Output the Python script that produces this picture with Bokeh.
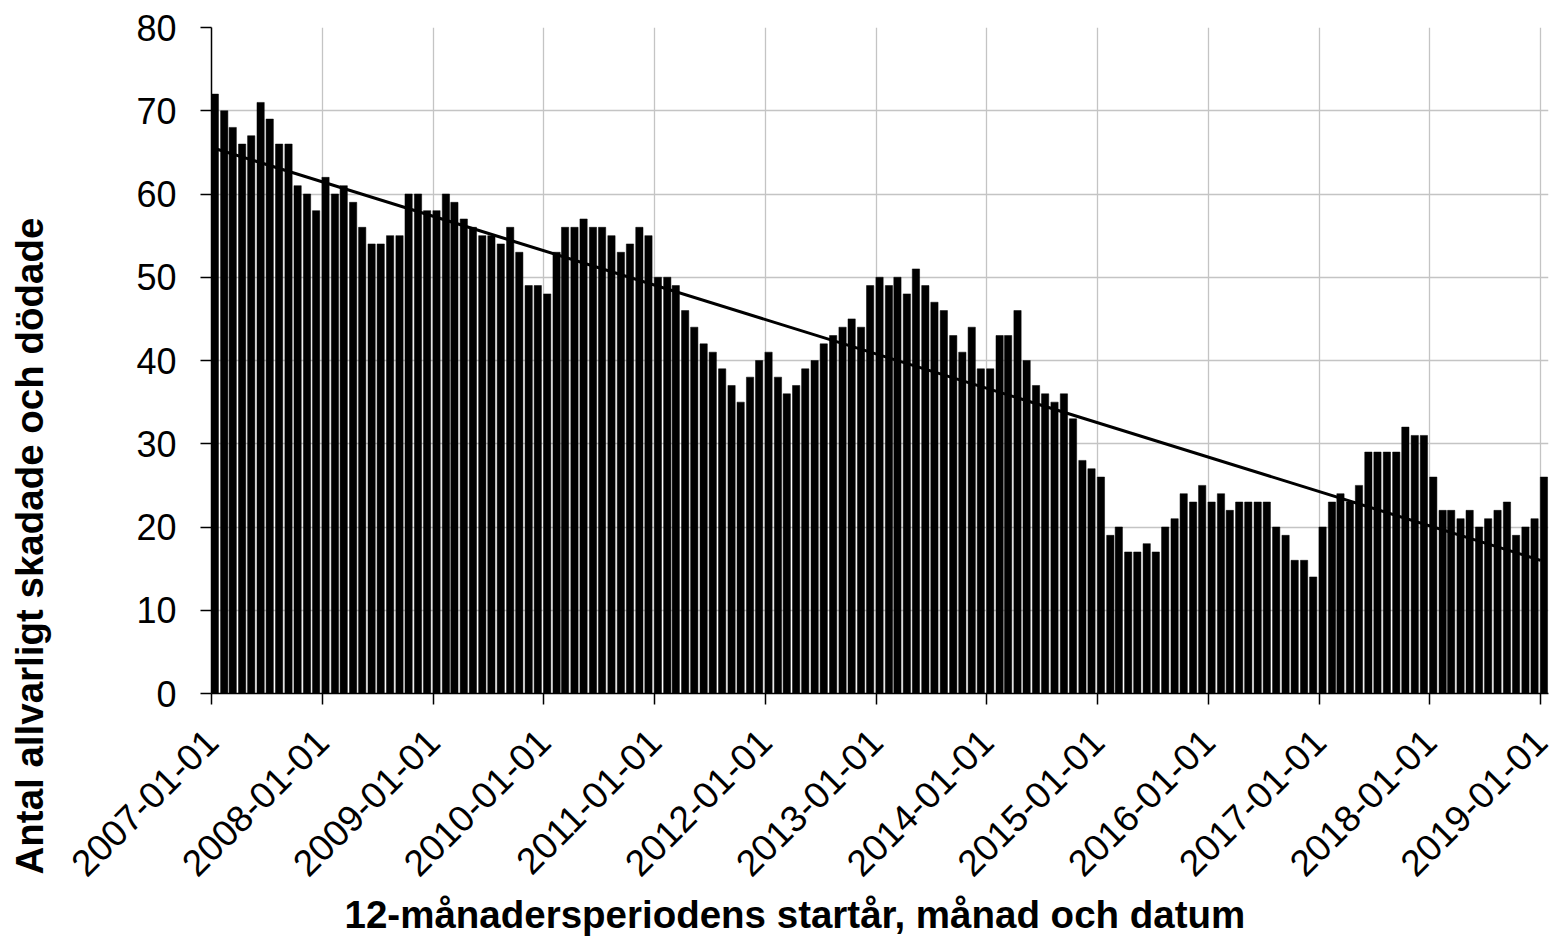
import math
import numpy as np
import pandas as pd
from bokeh.plotting import figure
from bokeh.models import (Range1d, FixedTicker, DatetimeTickFormatter,
                          SingleIntervalTicker, Title, ColumnDataSource)
from bokeh.embed import file_html
from bokeh.resources import INLINE

# ---------------- data ----------------
start_month = "2007-01-01"
end_month = "2019-01-01"
v2007 = [72, 70, 68, 66, 67, 71, 69, 66, 66, 61, 60, 58]
v2008 = [62, 60, 61, 59, 56, 54, 54, 55, 55, 60, 60, 58]
v2009 = [58, 60, 59, 57, 56, 55, 55, 54, 56, 53, 49, 49]
v2010 = [48, 53, 56, 56, 57, 56, 56, 55, 53, 54, 56, 55]
v2011 = [50, 50, 49, 46, 44, 42, 41, 39, 37, 35, 38, 40]
v2012 = [41, 38, 36, 37, 39, 40, 42, 43, 44, 45, 44, 49]
v2013 = [50, 49, 50, 48, 51, 49, 47, 46, 43, 41, 44, 39]
v2014 = [39, 43, 43, 46, 40, 37, 36, 35, 36, 33, 28, 27]
v2015 = [26, 19, 20, 17, 17, 18, 17, 20, 21, 24, 23, 25]
v2016 = [23, 24, 22, 23, 23, 23, 23, 20, 19, 16, 16, 14]
v2017 = [20, 23, 24, 23, 25, 29, 29, 29, 29, 32, 31, 31]
v2018 = [26, 22, 22, 21, 22, 20, 21, 22, 23, 19, 20, 21]
v2019 = [26]
tick_years = list(range(2007, 2020))
y_ticks_interval = 10
x_title = "12-månadersperiodens startår, månad och datum"
y_title = "Antal allvarligt skadade och dödade"

values = (v2007 + v2008 + v2009 + v2010 + v2011 + v2012 + v2013 + v2014 +
          v2015 + v2016 + v2017 + v2018 + v2019)
months = pd.date_range(start_month, end_month, freq="MS")
assert len(months) == len(values)

# ---------------- layout constants (page px) ----------------
FRAME_L, FRAME_R, FRAME_T, FRAME_B = 211, 1548, 27, 693
W, H = 1550, 944
x_start = months[0]
x_end = pd.Timestamp("2019-01-27")
Y0, Y1 = 0, 80

def ms(t):
    return pd.Timestamp(t).value / 1e6

DAY = 86400000
bar_x = [ms(m) + 11 * DAY for m in months]
src = ColumnDataSource(dict(x=bar_x, top=values))

p = figure(width=W, height=H, x_axis_type="datetime",
           output_backend="svg", toolbar_location=None,
           x_range=Range1d(ms(x_start), ms(x_end)), y_range=Range1d(Y0, Y1),
           min_border_left=FRAME_L, min_border_right=W - FRAME_R,
           min_border_top=FRAME_T, min_border_bottom=H - FRAME_B)
p.outline_line_color = None
p.background_fill_color = "white"
p.border_fill_color = "white"

p.vbar(x="x", top="top", width=24 * DAY, bottom=0, source=src,
       fill_color="black", line_color="black", line_width=0.5)

# linear trend line (least squares over the data)
days = np.array([(m - months[0]).days for m in months], dtype=float)
coef = np.polyfit(days, np.array(values, dtype=float), 1)
p.line(x=[ms(months[0]), ms(months[-1])],
       y=[float(np.polyval(coef, days[0])), float(np.polyval(coef, days[-1]))],
       line_color="black", line_width=3)

FONT = "Liberation Sans"
# x axis
xticks = [ms(f"{y}-01-01") for y in tick_years]
xa = p.xaxis[0]
xa.ticker = FixedTicker(ticks=xticks)
fmt = "%Y-%m-%d"
xa.formatter = DatetimeTickFormatter(years=fmt, months=fmt, days=fmt, hours=fmt,
                                     minutes=fmt, seconds=fmt, milliseconds=fmt,
                                     microseconds=fmt, hourmin=fmt, minsec=fmt)
xa.major_label_orientation = math.pi / 4
xa.major_label_text_font = FONT
xa.major_label_text_font_size = "37px"
xa.major_label_text_color = "black"
xa.major_label_standoff = 31
xa.major_tick_in = 0
xa.major_tick_out = 11
xa.minor_tick_line_color = None
xa.axis_line_color = "black"
xa.axis_line_width = 1.5
xa.major_tick_line_color = "black"
xa.major_tick_line_width = 1.5

ya = p.yaxis[0]
ya.ticker = SingleIntervalTicker(interval=y_ticks_interval, num_minor_ticks=0)
ya.major_label_text_font = FONT
ya.major_label_text_font_size = "36px"
ya.major_label_text_color = "black"
ya.major_label_standoff = 24
ya.major_tick_in = 0
ya.major_tick_out = 11
ya.minor_tick_line_color = None
ya.axis_line_color = "black"
ya.axis_line_width = 1.5
ya.major_tick_line_color = "black"
ya.major_tick_line_width = 1.5
ya.axis_label = " "
ya.axis_label_text_font_size = "10px"
ya.axis_label_standoff = 69

p.xgrid.ticker = FixedTicker(ticks=xticks)
p.xgrid.grid_line_color = "#c4c4c4"
p.xgrid.grid_line_width = 1.3
p.ygrid.grid_line_color = "#c4c4c4"
p.ygrid.grid_line_width = 1.3

# axis titles
p.add_layout(Title(text=x_title, align="left", offset=133, vertical_align="bottom",
                   standoff=0, text_font=FONT, text_font_style="bold",
                   text_font_size="38.5px", text_color="black"), "below")
p.add_layout(Title(text=y_title, align="left", offset=-181, vertical_align="bottom",
                   standoff=0, text_font=FONT, text_font_style="bold",
                   text_font_size="38.5px", text_color="black"), "left")

open("out.html", "w").write(file_html(p, INLINE))
